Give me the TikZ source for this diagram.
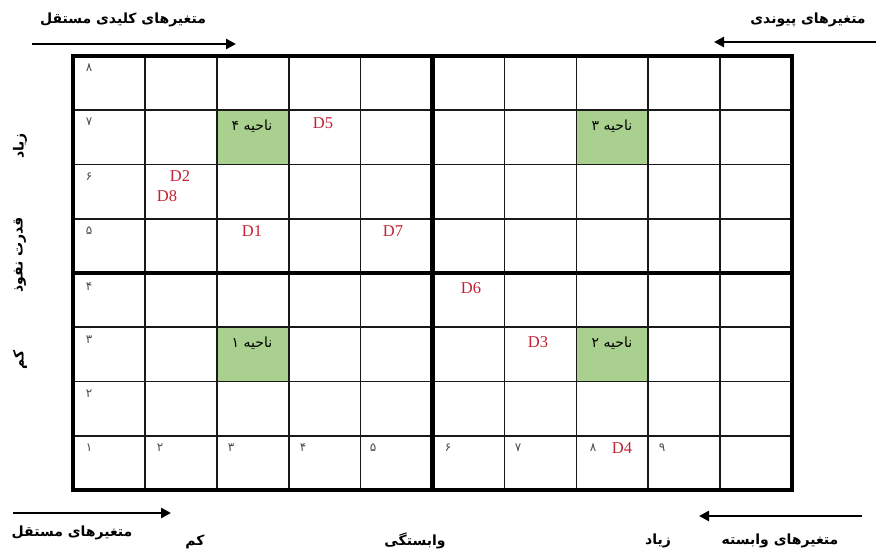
\documentclass[tikz,border=0pt]{standalone}
\usepackage{fontspec}
\setmainfont{Liberation Serif}
\newfontfamily\arabicfont[Script=Arabic]{DejaVu Sans}
\TeXXeTstate=1
\usetikzlibrary{arrows.meta}
\definecolor{cellgreen}{RGB}{169,208,142}
\definecolor{dred}{RGB}{196,34,52}
\begin{document}
\begin{tikzpicture}[x=1pt,y=-1pt,
  thinline/.style={line width=1.6pt, draw=black!90},
  thickline/.style={line width=4.2pt, draw=black},
  cellnum/.style={font=\arabicfont\fontsize{12}{13}\selectfont, text=black!70, inner sep=0pt},
  region/.style={font=\arabicfont\fontsize{14}{16}\selectfont, inner sep=0pt},
  dlabel/.style={font=\fontsize{16.5}{18}\selectfont, text=dred, inner sep=0pt},
  axislabel/.style={font=\arabicfont\bfseries\fontsize{14}{16}\selectfont, inner sep=0pt},
  axisarrow/.style={line width=2.8pt, -{Triangle[length=10pt,width=10pt]}}]
\useasboundingbox (0,0) rectangle (876,551);
\fill[white] (0,0) rectangle (876,551);
% green region cells
\foreach \c/\r in {3/2,8/2,3/6,8/6}
  \fill[cellgreen] ({73+71.9*(\c-1)},{56+54.25*(\r-1)}) rectangle ++(71.9,54.25);
% thin grid
\foreach \i in {1,...,9}
  \draw[thinline] ({73+71.9*\i},56) -- ++(0,434);
\foreach \j in {1,...,7}
  \draw[thinline] (73,{56+54.25*\j}) -- ++(719,0);
% thick lines
\draw[thickline] (432.5,56) -- (432.5,490);
\draw[thickline] (73,273) -- (792,273);
\draw[thickline] (73,56) rectangle (792,490);
% region labels
\node[region] (r4) at (252,126) {\beginR ناحیه ۴\endR};
\node[region] (r3) at (612,126) {\beginR ناحیه ۳\endR};
\node[region] (r1) at (252,343) {\beginR ناحیه ۱\endR};
\node[region] (r2) at (612,343) {\beginR ناحیه ۲\endR};
% row numbers
\node[cellnum] (n8) at (89,68) {۸};
\node[cellnum] (n7) at (89,122) {۷};
\node[cellnum] (n6) at (89,177) {۶};
\node[cellnum] (n5) at (89,231) {۵};
\node[cellnum] (n4) at (89,287) {۴};
\node[cellnum] (n3) at (89,340) {۳};
\node[cellnum] (n2) at (89,394) {۲};
\node[cellnum] (n1) at (89,448) {۱};
% column numbers
\node[cellnum] (c2) at (160,448) {۲};
\node[cellnum] (c3) at (231,448) {۳};
\node[cellnum] (c4) at (303,448) {۴};
\node[cellnum] (c5) at (373,448) {۵};
\node[cellnum] (c6) at (448,448) {۶};
\node[cellnum] (c7) at (518,448) {۷};
\node[cellnum] (c8) at (593,448) {۸};
\node[cellnum] (c9) at (662,448) {۹};
% D labels
\node[dlabel] (d5) at (323,123) {D5};
\node[dlabel] (d2) at (180,176) {D2};
\node[dlabel] (d8) at (167,196) {D8};
\node[dlabel] (d1) at (252,231) {D1};
\node[dlabel] (d7) at (393,231) {D7};
\node[dlabel] (d6) at (471,288) {D6};
\node[dlabel] (d3) at (538,342) {D3};
\node[dlabel] (d4) at (622,448) {D4};
% axis labels
\node[axislabel] (tl) at (123,20) {\beginR متغیرهای کلیدی مستقل\endR};
\node[axislabel] (tr) at (808,20) {\beginR متغیرهای پیوندی\endR};
\node[axislabel] (bl) at (72,533) {\beginR متغیرهای مستقل\endR};
\node[axislabel] (bk) at (195,542) {\beginR کم\endR};
\node[axislabel] (bv) at (415,541) {\beginR وابستگی\endR};
\node[axislabel] (bz) at (658,541) {\beginR زیاد\endR};
\node[axislabel] (br) at (780,541) {\beginR متغیرهای وابسته\endR};
\node[axislabel, rotate=90] (lz) at (20,146) {\beginR زیاد\endR};
\node[axislabel, rotate=90] (lq) at (20,255) {\beginR قدرت نفوذ\endR};
\node[axislabel, rotate=90] (lk) at (20,360) {\beginR کم\endR};
% arrows
\coordinate (a1s) at (32,44);  \coordinate (a1e) at (236,44);
\coordinate (a2s) at (876,42); \coordinate (a2e) at (714,42);
\coordinate (a3s) at (13,513); \coordinate (a3e) at (171,513);
\coordinate (a4s) at (862,516); \coordinate (a4e) at (699,516);
\draw[axisarrow] (a1s) -- (a1e);
\draw[axisarrow] (a2s) -- (a2e);
\draw[axisarrow] (a3s) -- (a3e);
\draw[axisarrow] (a4s) -- (a4e);
\end{tikzpicture}
\end{document}
